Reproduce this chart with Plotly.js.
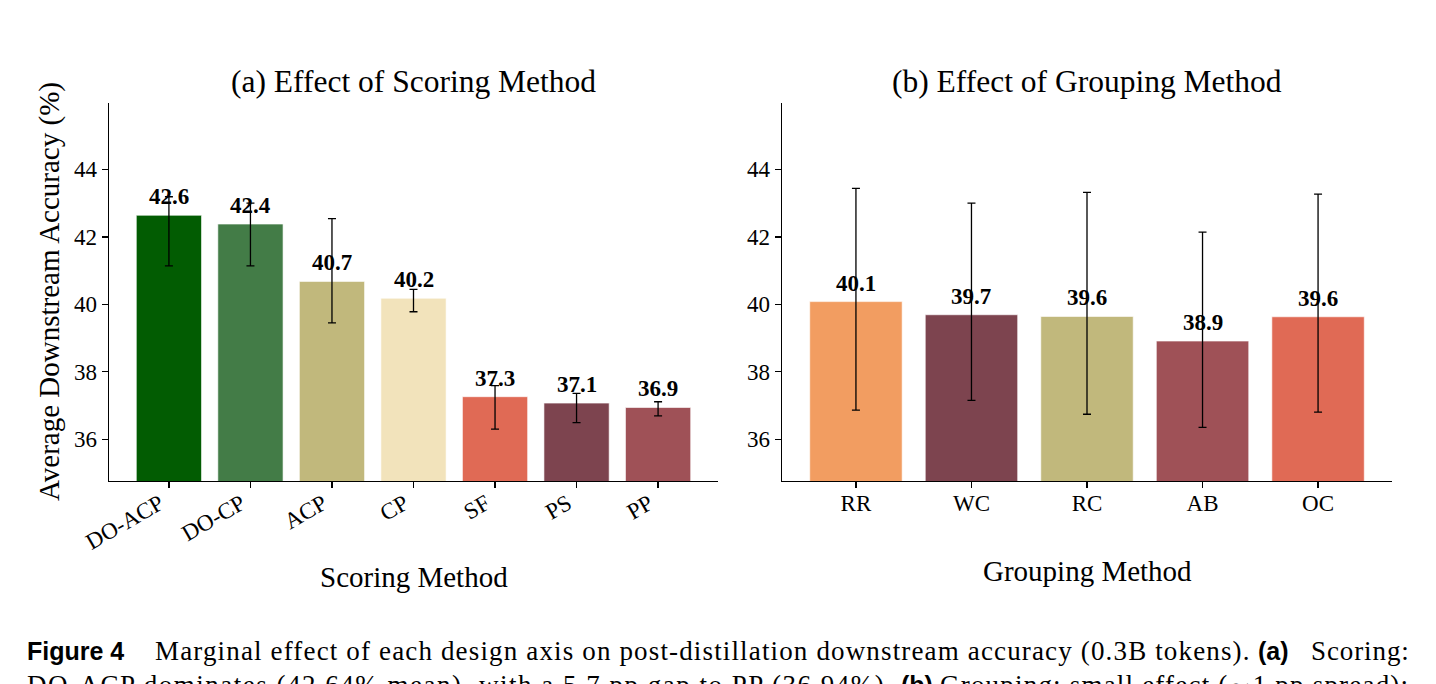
<!DOCTYPE html>
<html><head><meta charset="utf-8">
<script src="https://cdn.plot.ly/plotly-3.0.1.min.js"></script>
<style>html,body{margin:0;padding:0;background:#fff;overflow:hidden;} #chart{width:1436px;height:684px;}</style>
</head><body><div id="chart"></div>
<script>
// ---- data ----
const scoringMethods = ['DO-ACP', 'DO-CP', 'ACP', 'CP', 'SF', 'PS', 'PP'];
const scoringMeans = [42.64, 42.38, 40.68, 40.18, 37.26, 37.07, 36.94];
const scoringLabels = ['42.6', '42.4', '40.7', '40.2', '37.3', '37.1', '36.9'];
const scoringErrPlus = [0.55, 0.62, 1.86, 0.26, 0.33, 0.29, 0.17];
const scoringErrMinus = [1.50, 1.24, 1.23, 0.40, 0.96, 0.58, 0.25];
const scoringColors = ['#025c02', '#437c47', '#c1b87c', '#f2e3bb', '#e06a55', '#7d444f', '#9f5157'];

const groupingMethods = ['RR', 'WC', 'RC', 'AB', 'OC'];
const groupingMeans = [40.08, 39.69, 39.64, 38.91, 39.63];
const groupingLabels = ['40.1', '39.7', '39.6', '38.9', '39.6'];
const groupingErrPlus = [3.36, 3.31, 3.68, 3.23, 3.64];
const groupingErrMinus = [3.22, 2.54, 2.90, 2.56, 2.83];
const groupingColors = ['#f29d61', '#7d444f', '#c1b87c', '#9f5157', '#e06a55'];

const yTicks = [36, 38, 40, 42, 44];

// ---- layout helpers ----
const W = 1436, H = 684;
const px = x => x / W;
const py = y => (H - y) / H;
const SERIF = 'Liberation Serif, Times New Roman, serif';
const SANS = 'Liberation Sans, Arial, sans-serif';

const errStyle = (plus, minus) => ({
  type: 'data', symmetric: false, array: plus, arrayminus: minus,
  color: '#000', thickness: 1.3, width: 4
});

const traces = [
  {
    type: 'bar', x: scoringMethods, y: scoringMeans, xaxis: 'x', yaxis: 'y',
    width: 0.8, marker: {color: scoringColors, line: {color: 'rgba(255,255,255,0.6)', width: 1}},
    error_y: errStyle(scoringErrPlus, scoringErrMinus), hoverinfo: 'x+y', showlegend: false
  },
  {
    type: 'bar', x: groupingMethods, y: groupingMeans, xaxis: 'x2', yaxis: 'y2',
    width: 0.8, marker: {color: groupingColors, line: {color: 'rgba(255,255,255,0.6)', width: 1}},
    error_y: errStyle(groupingErrPlus, groupingErrMinus), hoverinfo: 'x+y', showlegend: false
  }
];

const annotations = [];
scoringMethods.forEach((m, i) => annotations.push({
  xref: 'x', yref: 'y', x: m, y: scoringMeans[i], text: '<b>' + scoringLabels[i] + '</b>',
  showarrow: false, yanchor: 'bottom', yshift: 4, font: {family: SERIF, size: 23, color: '#000'}
}));
groupingMethods.forEach((m, i) => annotations.push({
  xref: 'x2', yref: 'y2', x: m, y: groupingMeans[i], text: '<b>' + groupingLabels[i] + '</b>',
  showarrow: false, yanchor: 'bottom', yshift: 4, font: {family: SERIF, size: 23, color: '#000'}
}));

const txt = (text, x, y, size, family, extra) => Object.assign({
  xref: 'paper', yref: 'paper', x: px(x), y: py(y), text: text, showarrow: false,
  xanchor: 'center', yanchor: 'middle', font: {family: family, size: size, color: '#000'}
}, extra || {});
const spaced = (text, ls) => '<span style="letter-spacing:' + ls + 'px">' + text + '</span>';

annotations.push(txt('(a) Effect of Scoring Method', 414, 82, 31.5, SERIF));
annotations.push(txt('(b) Effect of Grouping Method', 1087, 82, 31.5, SERIF));
annotations.push(txt('Scoring Method', 414, 577, 29, SERIF));
annotations.push(txt('Grouping Method', 1087, 571, 29, SERIF));
annotations.push(txt('Average Downstream Accuracy (%)', 49, 292, 29, SERIF, {textangle: -90}));

// caption
annotations.push(txt('<b>Figure 4</b>', 25, 651, 25, SANS, {xanchor: 'left'}));
annotations.push(txt(spaced('Marginal effect of each design axis on post-distillation downstream accuracy (0.3B tokens).', 1.15), 153, 651, 27, SERIF, {xanchor: 'left'}));
annotations.push(txt('<b>(a)</b>', 1256, 651, 25, SANS, {xanchor: 'left'}));
annotations.push(txt(spaced('Scoring:', 0.9), 1309, 651, 27, SERIF, {xanchor: 'left'}));
annotations.push(txt(spaced('DO-ACP dominates (42.64% mean), with a 5.7 pp gap to PP (36.94%).', 1.5), 25, 685, 27, SERIF, {xanchor: 'left'}));
annotations.push(txt('<b>(b)</b>', 899, 685, 25, SANS, {xanchor: 'left'}));
annotations.push(txt(spaced('Grouping: small effect (∼1 pp spread);', 1.2), 938, 685, 27, SERIF, {xanchor: 'left'}));

const yAxisBase = {
  range: [34.76, 45.97], domain: [py(481), py(103)], tickvals: yTicks,
  showline: true, linecolor: '#000', linewidth: 1.3, ticks: 'outside', ticklen: 6,
  tickwidth: 1.3, tickcolor: '#000', showgrid: false, zeroline: false,
  tickfont: {family: SERIF, size: 23, color: '#000'}
};
const xAxisBase = {
  type: 'category', showline: true, linecolor: '#000', linewidth: 1.3, ticks: 'outside',
  ticklen: 6, tickwidth: 1.3, tickcolor: '#000', showgrid: false, zeroline: false,
  tickfont: {family: SERIF, size: 23, color: '#000'}
};

const layout = {
  width: W, height: H, margin: {l: 0, r: 0, t: 0, b: 0},
  paper_bgcolor: '#fff', plot_bgcolor: '#fff', showlegend: false,
  xaxis: Object.assign({}, xAxisBase, {domain: [px(109), px(718)], range: [-0.735, 6.735], anchor: 'y', tickangle: -30, ticklabelstandoff: -7, ticklabelshift: -9}),
  yaxis: Object.assign({}, yAxisBase, {anchor: 'x'}),
  xaxis2: Object.assign({}, xAxisBase, {domain: [px(782), px(1392)], range: [-0.64, 4.64], anchor: 'y2', tickangle: 0, ticklabelstandoff: -5}),
  yaxis2: Object.assign({}, yAxisBase, {anchor: 'x2'}),
  annotations: annotations
};

Plotly.newPlot('chart', traces, layout, {displayModeBar: false, staticPlot: true});
</script>
</body></html>
